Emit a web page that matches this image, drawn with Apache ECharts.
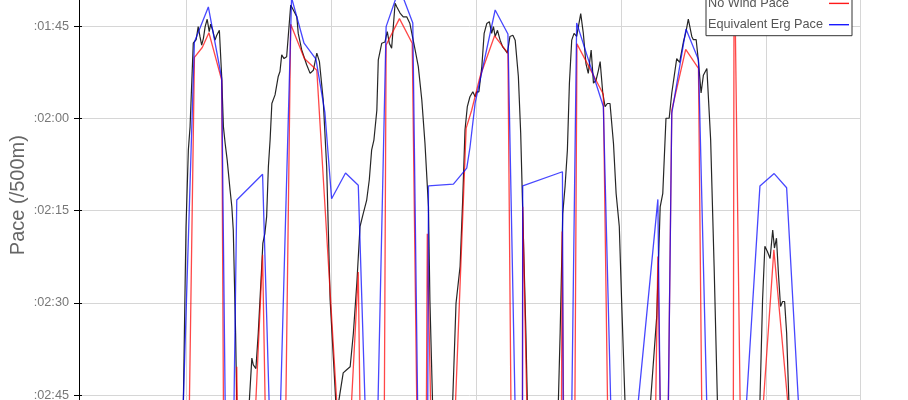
<!DOCTYPE html>
<html>
<head>
<meta charset="utf-8">
<script src="https://cdn.jsdelivr.net/npm/echarts@6/dist/echarts.min.js"></script>
<style>
  html, body { margin: 0; padding: 0; background: #fff; }
  #chart { width: 908px; height: 400px; }
</style>
</head>
<body>
<div id="chart"></div>
<script>
// distance (m) and pace (seconds per 500 m); 175 = below the visible window
const paceDist = [
  488,497,500,508,514,525,535,542,548,554,
  560,566,573,580,585,592,600,606,615,623,
  629,635,642,652,658,663,671,678,707,727,
  732,741,749,761,765,772,778,784,790,796,
  807,818,824,830,838,847,861,870,882,887,
  899,916,928,939,951,960,973,985,991,997,
  1019,1031,1042,1054,1066,1077,1089,1100,1111,1123,
  1132,1140,1148,1158,1163,1175,1186,1194,1201,1209,
  1221,1227,1238,1249,1261,1272,1290,1301,1313,1324,
  1336,1341,1355,1413,1431,1445,1454,1462,1470,1479,
  1489,1497,1502,1510,1520,1528,1537,1546,1554,1560,
  1566,1574,1583,1592,1600,1608,1617,1627,1635,1646,
  1654,1663,1672,1681,1779,1790,1799,1807,1815,1822,
  1830,1838,1847,1853,1861,1870,1879,1887,1897,1905,
  1914,1922,1928,1937,1945,1953,1962,1974,1983,1994,
  2002,2020,2088,2123,2135,2144,2155,2166,2175,2181,
  2192,2202,2215,2224,2232,2244,2249,2259,2267,2276,
  2284,2296,2309,2321,2337,2474,2488,2496,2505,2514,
  2523,2529,2536,2543,2550,2557,2564,2571,2585
];
const paceSec = [
  175,146.8,137.7,125.2,121.4,107.8,107.2,105.1,106.7,108.1,
  107.0,105.1,103.9,105.9,104.7,105.7,107.3,106.5,105.7,113.2,
  121.4,124.1,126.8,131.7,134.4,138.2,155.0,175,175,159.0,
  160.1,160.7,155.0,144.1,140.3,138.7,136.0,127.9,123.5,117.6,
  116.2,113.2,112.4,109.7,110.3,110.0,101.6,102.4,103.5,106.2,
  108.9,111.3,112.7,112.2,109.4,110.8,117.0,127.9,138.7,149.6,
  168.3,164.7,161.4,160.9,160.4,155.0,146.8,137.6,135.5,133.3,
  130.0,125.2,123.5,118.7,110.5,107.8,107.6,105.9,107.8,108.6,
  101.3,101.9,102.9,103.5,103.5,104.6,108.9,111.6,117.0,124.1,
  134.4,149.6,175,175,150.1,144.1,133.3,121.9,118.1,116.5,
  115.7,116.5,115.7,115.7,111.6,106.2,104.6,104.3,106.2,105.1,
  106.7,105.7,107.3,108.4,108.9,109.4,106.7,106.5,107.3,113.2,
  122.4,138.7,155.0,175,175,155.0,135.5,131.1,125.2,114.3,
  107.3,106.2,106.7,105.1,103.0,106.2,111.1,112.7,108.9,114.3,
  113.8,112.2,110.8,115.9,118.1,117.6,117.6,124.1,132.2,137.6,
  149.6,175,175,152.3,134.4,132.2,120.0,120.0,115.9,115.9,
  110.3,110.9,107.6,105.9,103.9,106.7,107.2,107.2,110.8,115.9,
  113.0,111.9,123.5,144.1,175,175,149.6,140.8,141.7,142.8,
  138.2,141.1,139.5,145.5,150.6,149.8,149.8,154.9,175
];
const noWindDist = [
  509,529,556,579,623,630,672,675,679,732,
  764,776,842,861,908,951,1031,1061,1094,1102,
  1183,1190,1236,1280,1298,1328,1332,1347,1422,1466,
  1485,1514,1564,1610,1622,1660,1661,1679,1794,1797,
  1803,1840,1848,1939,1956,2117,2127,2138,2161,2175,
  2223,2267,2280,2387,2390,2413,2478,2527,2592
];
const noWindSec = [
  175,110.1,108.5,106.1,113.8,175,175,160.4,175,175,
  142.2,175,175,104.7,110.3,112.2,175,175,145.0,175,
  175,108.1,103.8,107.8,175,175,138.8,175,175,121.6,
  118.7,113.2,106.6,109.4,175,175,134.4,175,175,138.4,
  175,175,107.9,116.1,175,175,142.5,175,175,118.7,
  108.8,111.9,175,175,90,175,175,141.4,175
];
const ergDist = [
  485,529,577,623,637,663,675,764,792,821,
  864,907,948,979,1002,1050,1094,1123,1158,1190,
  1236,1282,1301,1333,1336,1422,1468,1479,1497,1566,
  1610,1638,1660,1661,1798,1801,1828,1847,1939,1969,
  2041,2127,2137,2161,2175,2224,2267,2300,2421,2479,
  2528,2571,2622
];
const ergSec = [
  175,107.6,101.9,113.5,175,175,133.3,129.1,175,175,
  100.4,107.8,110.4,119.1,133.1,128.9,130.9,175,175,105.1,
  98.8,104.5,175,175,131.0,130.7,128.1,124.8,117.5,102.4,
  106.3,175,175,131.0,128.7,175,175,104.5,118.1,175,
  175,133.2,175,175,119.2,105.5,110.5,175,175,131.0,
  129.0,131.3,175
];
const seriesNames = ['Pace', 'No Wind Pace', 'Equivalent Erg Pace'];

function zip(xs, ys) {
  const n = Math.min(xs.length, ys.length);
  const out = [];
  for (let i = 0; i < n; i++) out.push([xs[i], ys[i]]);
  return out;
}
function fmtPace(v) {
  const m = Math.floor(v / 60);
  const s = Math.round(v - m * 60);
  return ':' + String(m).padStart(2, '0') + ':' + String(s).padStart(2, '0');
}

const FONT = 'Liberation Sans';
const Y_RANGE = { type: 'value', inverse: true, min: 90, max: 175, interval: 15 };
const chart = echarts.init(document.getElementById('chart'), null, { renderer: 'canvas' });
chart.setOption({
  animation: false,
  backgroundColor: '#fff',
  grid: { left: 79, right: 48, top: -66.25, bottom: -56.5, containLabel: false, outerBoundsMode: 'none' },
  legend: {
    data: seriesNames,
    orient: 'vertical',
    left: 706,
    top: -28.9,
    align: 'right',
    icon: 'rect',
    itemWidth: 20,
    itemHeight: 1.4,
    itemGap: 7.3,
    padding: [4, 3, 4, 2],
    borderColor: '#333',
    borderWidth: 1,
    backgroundColor: '#fff',
    selectedMode: false,
    formatter: name => '{t|' + name + '}',
    textStyle: {
      fontFamily: FONT, fontSize: 12.7, color: '#555',
      rich: { t: { width: 116, height: 14, lineHeight: 14, align: 'left', fontFamily: FONT, fontSize: 12.7, color: '#555' } }
    }
  },
  xAxis: {
    type: 'value',
    min: 131,
    max: 2824,
    axisLine: { show: false },
    axisTick: { show: false },
    axisLabel: { show: false },
    splitLine: { show: true, lineStyle: { color: '#d6d6d6', width: 1 } }
  },
  yAxis: [
    Object.assign({}, Y_RANGE, {
      name: 'Pace (/500m)',
      nameLocation: 'middle',
      nameGap: 51,
      nameMoveOverlap: false,
      nameTextStyle: { fontFamily: FONT, fontSize: 20, color: '#666' },
      axisLine: { show: true, lineStyle: { color: '#000', width: 1 } },
      axisTick: { show: true, inside: false, length: 5, lineStyle: { color: '#000' } },
      axisLabel: { formatter: fmtPace, fontFamily: FONT, fontSize: 12.7, color: '#777', margin: 10 },
      splitLine: { show: true, lineStyle: { color: '#d6d6d6', width: 1 } }
    }),
    Object.assign({}, Y_RANGE, {
      position: 'left',
      axisLine: { show: false },
      axisTick: { show: true, inside: true, length: 3, lineStyle: { color: '#000' } },
      axisLabel: { show: false },
      splitLine: { show: false }
    })
  ],
  series: [
    {
      name: seriesNames[0], type: 'line', data: zip(paceDist, paceSec),
      symbol: 'none', lineStyle: { color: 'rgba(0,0,0,0.85)', width: 1.2 },
      itemStyle: { color: 'rgba(0,0,0,0.85)' }, clip: true
    },
    {
      name: seriesNames[1], type: 'line', data: zip(noWindDist, noWindSec),
      symbol: 'none', lineStyle: { color: 'rgba(255,0,0,0.72)', width: 1.3 },
      itemStyle: { color: 'rgba(255,0,0,0.9)' }, clip: true
    },
    {
      name: seriesNames[2], type: 'line', data: zip(ergDist, ergSec),
      symbol: 'none', lineStyle: { color: 'rgba(0,0,255,0.72)', width: 1.3 },
      itemStyle: { color: 'rgba(0,0,255,0.9)' }, clip: true
    }
  ]
});
</script>
</body>
</html>
